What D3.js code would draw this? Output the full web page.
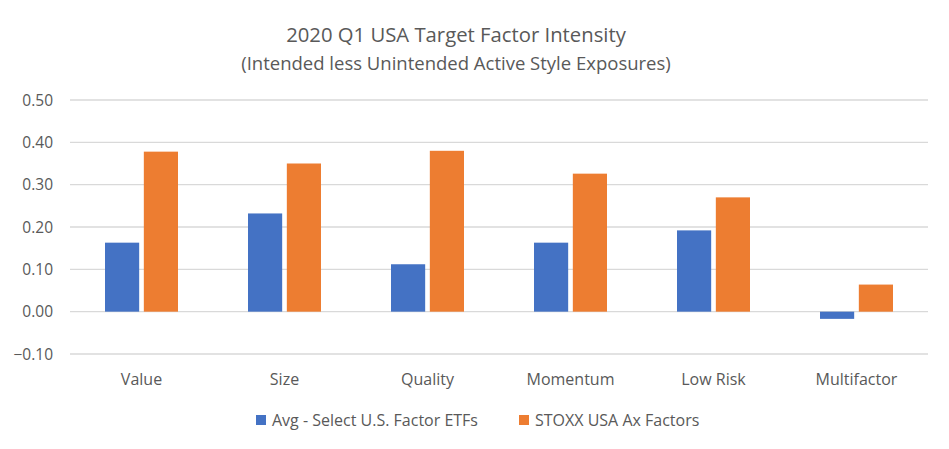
<!DOCTYPE html>
<html>
<head>
<meta charset="utf-8">
<script src="https://cdn.jsdelivr.net/npm/d3@7"></script>
<style>
  body { margin: 0; background: #fff; }
  text { font-family: "Open Sans", "Noto Sans", sans-serif; fill: #595959; }
</style>
</head>
<body>
<svg id="chart"></svg>
<script>
const categories = ['Value', 'Size', 'Quality', 'Momentum', 'Low Risk', 'Multifactor'];
const seriesNames = ['Avg - Select U.S. Factor ETFs', 'STOXX USA Ax Factors'];
const avgEtfs = [0.163, 0.232, 0.112, 0.163, 0.192, -0.017];
const stoxxAx = [0.378, 0.350, 0.380, 0.326, 0.270, 0.064];
const yTicks = [-0.1, 0, 0.1, 0.2, 0.3, 0.4, 0.5];
const colors = ['#4472c4', '#ed7d31'];

const width = 949, height = 449;
const margin = { top: 100, right: 21, bottom: 95, left: 70 };

const svg = d3.select('#chart')
  .attr('width', width)
  .attr('height', height);

const x = d3.scaleBand()
  .domain(categories)
  .range([margin.left, width - margin.right]);

const xInner = d3.scaleBand()
  .domain([0, 1])
  .range([0, 73])
  .paddingInner(0.12);

const y = d3.scaleLinear()
  .domain([-0.1, 0.5])
  .range([354, 100]);

// gridlines
svg.append('g')
  .selectAll('line')
  .data(yTicks)
  .enter().append('line')
  .attr('x1', margin.left)
  .attr('x2', width - margin.right)
  .attr('y1', d => y(d))
  .attr('y2', d => y(d))
  .attr('stroke', '#d9d9d9')
  .attr('stroke-width', 1.3);

// y axis labels
svg.append('g')
  .selectAll('text')
  .data(yTicks)
  .enter().append('text')
  .attr('x', 53)
  .attr('y', d => y(d))
  .attr('dy', '0.36em')
  .attr('text-anchor', 'end')
  .style('font-size', '15.5px')
  .text(d => d3.format('.2f')(d));

// bars
const rows = categories.map((c, i) => ({ cat: c, vals: [avgEtfs[i], stoxxAx[i]] }));

const groups = svg.append('g')
  .selectAll('g')
  .data(rows)
  .enter().append('g')
  .attr('transform', d => `translate(${x(d.cat) + (x.bandwidth() - 73) / 2},0)`);

groups.selectAll('rect')
  .data(d => d.vals.map((v, k) => ({ v, k })))
  .enter().append('rect')
  .attr('x', d => xInner(d.k))
  .attr('width', xInner.bandwidth())
  .attr('y', d => y(Math.max(0, d.v)))
  .attr('height', d => Math.abs(y(d.v) - y(0)))
  .attr('fill', d => colors[d.k]);

// category labels
svg.append('g')
  .selectAll('text')
  .data(categories)
  .enter().append('text')
  .attr('x', d => x(d) + x.bandwidth() / 2)
  .attr('y', 385)
  .attr('text-anchor', 'middle')
  .style('font-size', '16px')
  .text(d => d);

// title
svg.append('text')
  .attr('x', 456)
  .attr('y', 42)
  .attr('text-anchor', 'middle')
  .style('font-size', '20.3px')
  .text('2020 Q1 USA Target Factor Intensity');

svg.append('text')
  .attr('x', 456)
  .attr('y', 70)
  .attr('text-anchor', 'middle')
  .style('font-size', '18.5px')
  .text('(Intended less Unintended Active Style Exposures)');

// legend
const legendX = [256, 519];
const legend = svg.append('g')
  .selectAll('g')
  .data(seriesNames)
  .enter().append('g')
  .attr('transform', (d, i) => `translate(${legendX[i]},415)`);

legend.append('rect')
  .attr('width', 10)
  .attr('height', 10)
  .attr('fill', (d, i) => colors[i]);

legend.append('text')
  .attr('x', 16)
  .attr('y', 5)
  .attr('dy', '0.36em')
  .style('font-size', '16px')
  .text(d => d);
</script>
</body>
</html>
